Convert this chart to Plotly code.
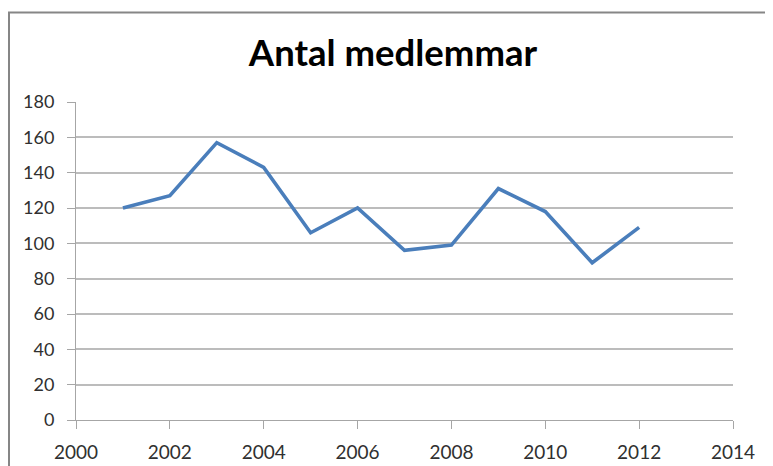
import plotly.graph_objects as go

years = [2001, 2002, 2003, 2004, 2005, 2006, 2007, 2008, 2009, 2010, 2011, 2012]
members = [120, 127, 157, 143, 106, 120, 96, 99, 131, 118, 89, 109]
title_text = "Antal medlemmar"

# page body has an 8px margin, so the figure is drawn 8px in from the window corner
W, H = 765, 458
L, R, T, B = 68, 40, 94, 46
pw, ph = W - L - R, H - T - B

def px_x(x):
    return (x - L) / pw

def px_y(y):
    return (H - B - y) / ph

fig = go.Figure()
fig.add_trace(go.Scatter(
    x=years, y=members, mode="lines",
    line=dict(color="#4a7ebb", width=3.6),
    showlegend=False, hoverinfo="skip",
))

fam = "Lato, Carlito, sans-serif"

fig.update_layout(
    width=W, height=H,
    margin=dict(l=L, r=R, t=T, b=B, autoexpand=False),
    paper_bgcolor="white", plot_bgcolor="white",
    title=dict(text="<b>" + title_text + "</b>", x=385 / W, xanchor="center",
               y=1 - 45 / H, yanchor="middle",
               font=dict(family=fam, size=36.5, color="black")),
    xaxis=dict(range=[2000, 2014], dtick=2, tick0=2000, showgrid=False,
               showline=True, linecolor="#a6a6a6", linewidth=1,
               ticks="outside", ticklen=8, tickcolor="#a6a6a6",
               ticklabelstandoff=7, automargin=False,
               tickfont=dict(family=fam, size=19, color="#303030"),
               zeroline=False, fixedrange=True),
    yaxis=dict(range=[0, 180], dtick=20, tick0=0, showgrid=True,
               gridcolor="#bcbcbc", gridwidth=1.5,
               showline=True, linecolor="#a6a6a6", linewidth=1,
               ticks="outside", ticklen=8, tickcolor="#a6a6a6",
               ticklabelstandoff=9, automargin=False,
               tickfont=dict(family=fam, size=18, color="#303030"),
               zeroline=False, fixedrange=True),
    shapes=[dict(type="rect", xref="paper", yref="paper",
                 x0=px_x(1), x1=px_x(800), y0=px_y(500), y1=px_y(4.5),
                 line=dict(color="#868686", width=2), fillcolor="rgba(0,0,0,0)",
                 layer="below")],
)

fig.write_html("out.html")
